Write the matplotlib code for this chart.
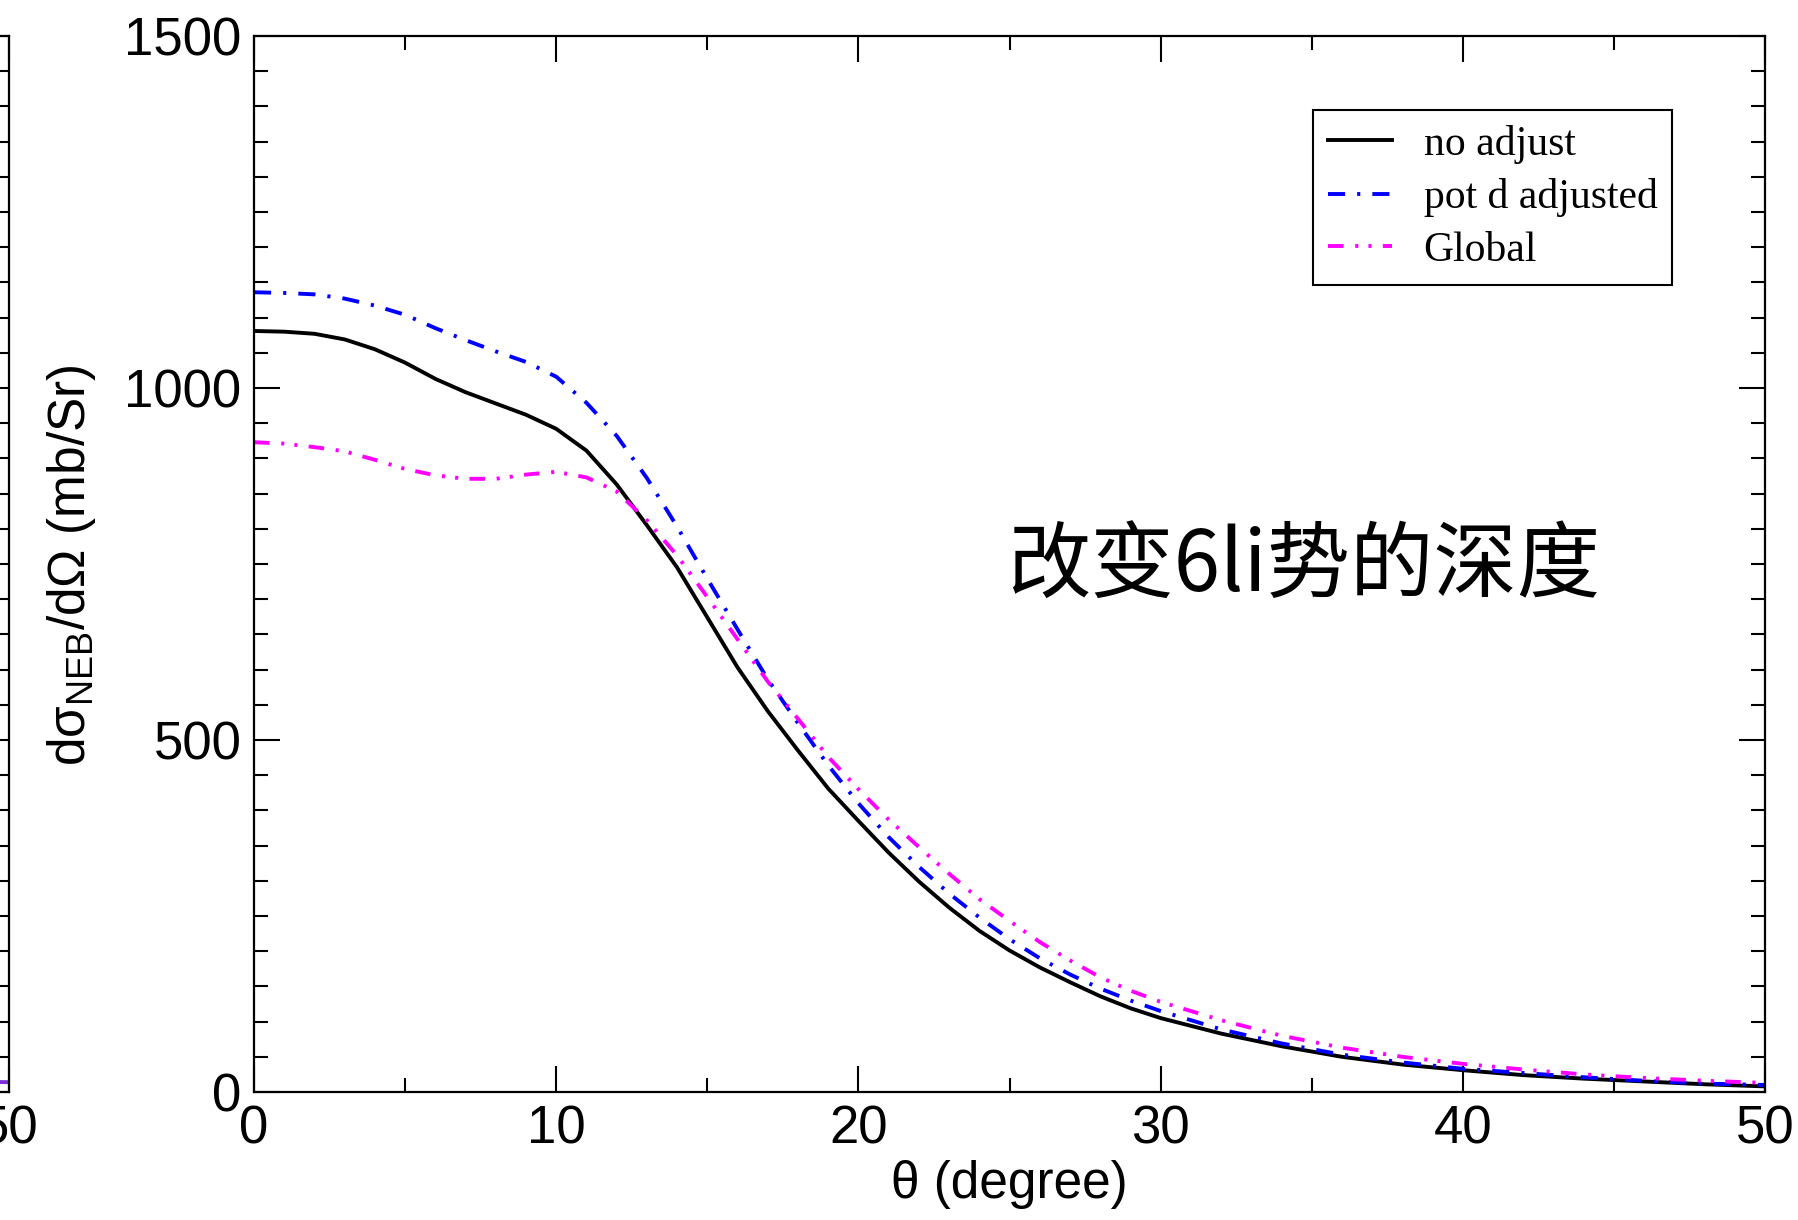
import matplotlib
matplotlib.use("Agg")
import matplotlib.pyplot as plt
from matplotlib.ticker import MultipleLocator

plt.rcParams['font.family'] = ['Liberation Sans', 'DejaVu Sans']
plt.rcParams['mathtext.fontset'] = 'custom'
plt.rcParams['mathtext.rm'] = 'Liberation Sans'

# angle grid (degree)
theta = [0, 1, 2, 3, 4, 5, 6, 7, 8, 9, 10, 11, 12, 13, 14, 15, 16, 17, 18, 19,
         20, 21, 22, 23, 24, 25, 26, 27, 28, 29, 30, 32, 34, 36, 38, 40, 42, 44, 46, 48, 50]

no_adjust = [1081, 1080, 1077, 1069, 1055, 1036, 1013, 994, 978, 962,
             942, 911, 863, 805, 745, 674, 603, 541, 485, 431,
             385, 340, 299, 262, 229, 201, 177, 156, 136, 119,
             105, 83, 65, 50, 39, 31, 24, 19, 15, 11, 8]

pot_d_adjusted = [1136, 1135, 1133, 1127, 1117, 1104, 1085, 1068, 1052, 1037,
                  1016, 979, 932, 872, 803, 729, 657, 586, 524, 464,
                  410, 362, 320, 282, 248, 217, 190, 167, 147, 130,
                  115, 89, 69, 53, 42, 33, 27, 21, 16, 12, 10]

global_pot = [923, 921, 916, 910, 898, 885, 876, 871, 871, 877,
              881, 873, 853, 812, 762, 703, 643, 583, 530, 476,
              430, 387, 348, 310, 274, 243, 213, 187, 163, 144,
              128, 102, 80, 63, 50, 40, 32, 25, 20, 16, 13]

# tail of the curve in the neighbouring (cut off) panel
left_theta = [44, 46, 48, 50]
left_vals = [22, 18, 15, 14]

labels = ['no adjust', 'pot d adjusted', 'Global']
note = '改变6li势的深度'

fig = plt.figure(figsize=(17.99, 12.2), dpi=100)


def style_axes(a):
    a.set_xlim(0, 50)
    a.set_ylim(0, 1500)
    a.xaxis.set_major_locator(MultipleLocator(10))
    a.xaxis.set_minor_locator(MultipleLocator(5))
    a.yaxis.set_major_locator(MultipleLocator(500))
    a.yaxis.set_minor_locator(MultipleLocator(50))
    a.tick_params(which='both', direction='in', top=True, right=True,
                  width=1.5, labelsize=38, pad=9)
    a.tick_params(which='major', length=19)
    a.tick_params(which='minor', length=10)
    for s in a.spines.values():
        s.set_linewidth(1.6)


# partial left panel
axl = fig.add_axes([0.005 - 0.84, 0.1049, 0.84, 0.8656])
style_axes(axl)
axl.plot(left_theta, left_vals, color='#7b2fd6', lw=2.8)
axl.set_yticklabels([])

ax = fig.add_axes([0.1412, 0.1049, 0.8400, 0.8656])
style_axes(ax)

ax.plot(theta, no_adjust, color='black', lw=2.8, label=labels[0])
ax.plot(theta, pot_d_adjusted, color='blue', lw=2.8, label=labels[1],
        dashes=(4.4, 3.1, 0.8, 3.1))
ax.plot(theta, global_pot, color='magenta', lw=2.8, label=labels[2],
        dashes=(4.0, 3.0, 0.8, 2.6, 0.8, 2.9))

ax.set_xlabel('θ (degree)', fontsize=37, labelpad=4)
fig.text(0.0395, 0.537, 'dσ$_{\\mathregular{NEB}}$/dΩ (mb/Sr)',
         rotation=90, fontsize=37, ha='center', va='center')

leg = ax.legend(loc='upper left', bbox_to_anchor=(0.7297, 0.9098),
                bbox_transform=fig.transFigure, borderaxespad=0,
                prop={'family': 'Liberation Serif', 'size': 30},
                handlelength=1.55, handletextpad=0.75, labelspacing=0.34,
                borderpad=0.36, fancybox=False, framealpha=1)
leg.get_frame().set_edgecolor('black')
leg.get_frame().set_linewidth(1.5)

fig.text(1007 / 1799, 0.535, note, fontsize=60, ha='left', va='center',
         family=['Noto Sans CJK SC', 'DejaVu Sans'])

fig.savefig('out.png', dpi=100)
